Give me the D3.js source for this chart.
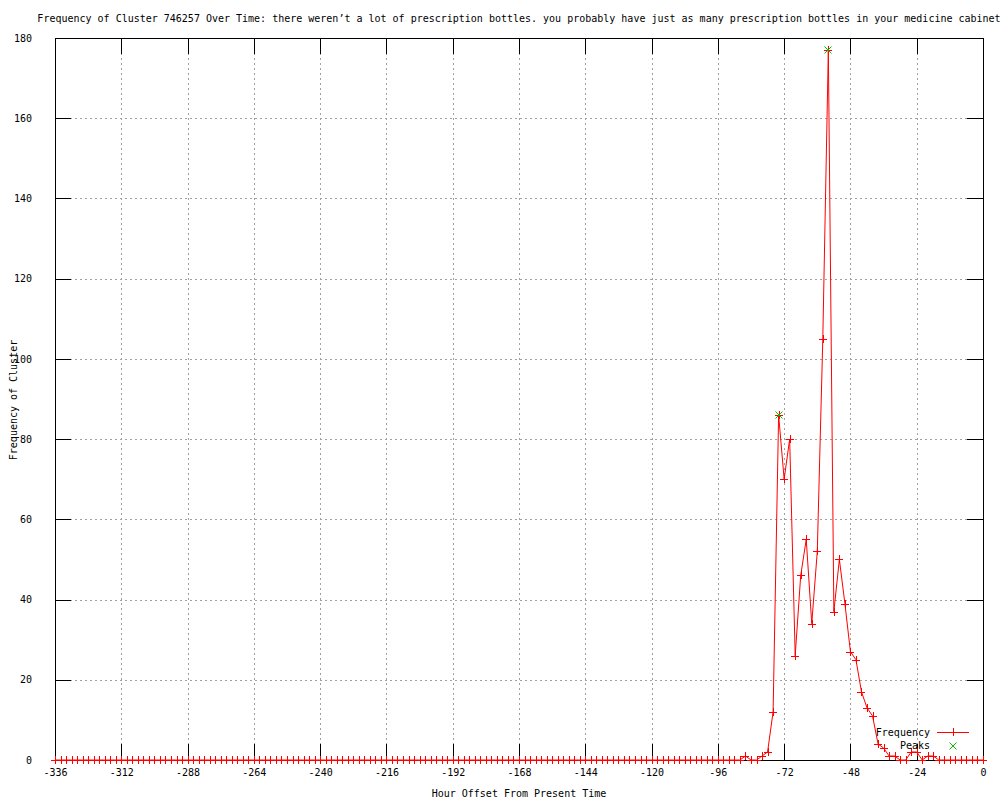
<!DOCTYPE html>
<html>
<head>
<meta charset="utf-8">
<script src="https://cdn.jsdelivr.net/npm/d3@7"></script>
<style>
body { margin: 0; background: #fff; }
text { font-family: "DejaVu Sans Mono", monospace; font-size: 10px; fill: #000; }
</style>
</head>
<body>
<script>
const width = 1000,
    height = 800;

// hours from -336 to 0, one sample every 2 hours
const hours = d3.range(-336, 1, 2);

const freq = [
    0, 0, 0, 0, 0, 0, 0, 0, 0, 0, 0, 0, 0, 0, 0, 0, 0, 0, 0, 0, 0, 0, 0, 0, 0,
    0, 0, 0, 0, 0, 0, 0, 0, 0, 0, 0, 0, 0, 0, 0, 0, 0, 0, 0, 0, 0, 0, 0, 0, 0,
    0, 0, 0, 0, 0, 0, 0, 0, 0, 0, 0, 0, 0, 0, 0, 0, 0, 0, 0, 0, 0, 0, 0, 0, 0,
    0, 0, 0, 0, 0, 0, 0, 0, 0, 0, 0, 0, 0, 0, 0, 0, 0, 0, 0, 0, 0, 0, 0, 0, 0,
    0, 0, 0, 0, 0, 0, 0, 0, 0, 0, 0, 0, 0, 0, 0, 0, 0, 0, 0, 0, 0, 0, 0, 0, 0,
    1, 0, 0, 1, 2, 12, 86, 70, 80, 26, 46, 55, 34, 52, 105, 177, 37, 50, 39, 27,
    25, 17, 13, 11, 4, 3, 1, 1, 0, 0, 2, 2, 0, 1, 1,
    0, 0, 0, 0, 0, 0, 0, 0, 0
];

const peakHours = [-74, -56];
const peakValues = [86, 177];

const xTicks = [-336, -312, -288, -264, -240, -216, -192, -168, -144, -120, -96, -72, -48, -24, 0];
const yTicks = [0, 20, 40, 60, 80, 100, 120, 140, 160, 180];

const titleText = "Frequency of Cluster 746257 Over Time: there weren\u2019t a lot of prescription bottles. you probably have just as many prescription bottles in your medicine cabinet";

const m = { left: 55, right: 983, top: 38, bottom: 760 };

const svg = d3.select("body").append("svg")
    .attr("width", width)
    .attr("height", height);

const x = d3.scaleLinear().domain([-336, 0]).range([m.left, m.right]);
const y = d3.scaleLinear().domain([0, 180]).range([m.bottom, m.top]);

// grid
const grid = svg.append("g")
    .attr("stroke", "#a0a0a0")
    .attr("stroke-dasharray", "2,3")
    .attr("shape-rendering", "crispEdges");

grid.selectAll(".gx")
    .data(xTicks.slice(1, -1))
    .enter().append("line")
        .attr("x1", d => Math.round(x(d)) + 0.5)
        .attr("x2", d => Math.round(x(d)) + 0.5)
        .attr("y1", m.top)
        .attr("y2", m.bottom);

grid.selectAll(".gy")
    .data(yTicks.slice(1, -1))
    .enter().append("line")
        .attr("y1", d => Math.round(y(d)) + 0.5)
        .attr("y2", d => Math.round(y(d)) + 0.5)
        .attr("x1", m.left)
        .attr("x2", m.right);

// axes, ticks inward on all four sides
const fmt = d => String(d);
const tick = 16;

const axB = svg.append("g")
    .attr("transform", "translate(0," + m.bottom + ")")
    .call(d3.axisBottom(x).tickValues(xTicks).tickSize(-tick).tickPadding(tick + 5).tickFormat(fmt));
const axT = svg.append("g")
    .attr("transform", "translate(0," + m.top + ")")
    .call(d3.axisTop(x).tickValues(xTicks).tickSize(-tick).tickFormat(""));
const axL = svg.append("g")
    .attr("transform", "translate(" + m.left + ",0)")
    .call(d3.axisLeft(y).tickValues(yTicks).tickSize(-tick).tickPadding(tick + 7).tickFormat(fmt));
const axR = svg.append("g")
    .attr("transform", "translate(" + m.right + ",0)")
    .call(d3.axisRight(y).tickValues(yTicks).tickSize(-tick).tickFormat(""));

[axB, axT, axL, axR].forEach(a => {
    a.select(".domain").remove();
    a.selectAll("line").attr("stroke", "#000").attr("shape-rendering", "crispEdges");
    a.selectAll("text").style("font-family", "DejaVu Sans Mono, monospace").style("font-size", "10px");
});
axB.selectAll("text").attr("dy", "0.71em").attr("y", 9);

svg.append("rect")
    .attr("x", m.left + 0.5)
    .attr("y", m.top + 0.5)
    .attr("width", m.right - m.left)
    .attr("height", m.bottom - m.top)
    .attr("fill", "none")
    .attr("stroke", "#000")
    .attr("shape-rendering", "crispEdges");

// frequency line
const pts = hours.map((h, i) => [h, freq[i]]);

svg.append("path")
    .datum(pts)
    .attr("fill", "none")
    .attr("stroke", "red")
    .attr("stroke-width", 1)
    .attr("d", d3.line().x(d => x(d[0])).y(d => y(d[1])));

const plus = "M-4,0H4M0,-4V4";
const cross = "M-3.5,-3.5L3.5,3.5M-3.5,3.5L3.5,-3.5";

svg.append("g").selectAll("path")
    .data(pts)
    .enter().append("path")
        .attr("transform", d => "translate(" + Math.round(x(d[0])) + "," + Math.round(y(d[1])) + ")")
        .attr("d", plus)
        .attr("stroke", "red")
        .attr("fill", "none")
        .attr("shape-rendering", "crispEdges");

svg.append("g").selectAll("path")
    .data(peakHours.map((h, i) => [h, peakValues[i]]))
    .enter().append("path")
        .attr("transform", d => "translate(" + Math.round(x(d[0])) + "," + Math.round(y(d[1])) + ")")
        .attr("d", cross)
        .attr("stroke", "#00c000")
        .attr("fill", "none");

// legend
const legend = svg.append("g");
legend.append("text").attr("x", 930).attr("y", 736).attr("text-anchor", "end").text("Frequency");
legend.append("line").attr("x1", 937).attr("x2", 969).attr("y1", 732.5).attr("y2", 732.5).attr("stroke", "red");
legend.append("path").attr("transform", "translate(953,732)").attr("d", plus).attr("stroke", "red").attr("shape-rendering", "crispEdges");
legend.append("text").attr("x", 930).attr("y", 749).attr("text-anchor", "end").text("Peaks");
legend.append("path").attr("transform", "translate(953,746)").attr("d", cross).attr("stroke", "#00c000");

// titles
svg.append("text")
    .attr("x", (m.left + m.right) / 2)
    .attr("y", 22)
    .attr("text-anchor", "middle")
    .text(titleText);

svg.append("text")
    .attr("x", (m.left + m.right) / 2)
    .attr("y", 797)
    .attr("text-anchor", "middle")
    .text("Hour Offset From Present Time");

svg.append("text")
    .attr("transform", "translate(17,400) rotate(-90)")
    .attr("text-anchor", "middle")
    .text("Frequency of Cluster");
</script>
</body>
</html>
